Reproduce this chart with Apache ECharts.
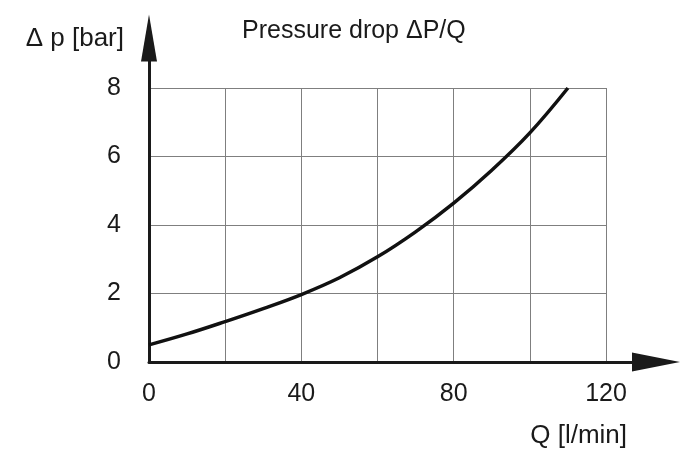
<!DOCTYPE html>
<html>
<head>
<meta charset="utf-8">
<script src="https://cdn.jsdelivr.net/npm/echarts@6/dist/echarts.min.js"></script>
<style>
html,body{margin:0;padding:0;background:#fff;}
#chart{width:684px;height:452px;}
</style>
</head>
<body>
<div id="chart"></div>
<script>
// Data
var flow = [0, 10, 20, 30, 40, 50, 60, 70, 80, 90, 100, 110];
var pressure = [0.5, 0.82, 1.18, 1.56, 1.97, 2.46, 3.07, 3.8, 4.64, 5.6, 6.69, 8.0];
var xTickLabels = [0, 40, 80, 120];
var yTickLabels = [0, 2, 4, 6, 8];
var titleText = 'Pressure drop ΔP/Q';
var xName = 'Q [l/min]';
var yName = 'Δ p [bar]';

var font = 'Liberation Sans, Arial, sans-serif';
var ink = '#1a1a1a';
var seriesData = flow.map(function (q, i) { return [q, pressure[i]]; });

var chart = echarts.init(document.getElementById('chart'), null, {renderer: 'canvas'});
chart.setOption({
  backgroundColor: '#fff',
  animation: false,
  textStyle: {fontFamily: font},
  title: {
    text: titleText, left: 237, top: 14,
    textStyle: {fontSize: 25, fontWeight: 'normal', color: ink, fontFamily: font}
  },
  grid: [
    {left: 149, right: 78, top: 88, bottom: 90},
    {left: 149, right: 28, top: 38, bottom: 90}
  ],
  xAxis: [
    {
      type: 'value', gridIndex: 0, min: 0, max: 120, interval: 20,
      axisLine: {show: false}, axisTick: {show: false},
      splitLine: {show: true, lineStyle: {color: '#7f7f7f', width: 1}},
      axisLabel: {
        fontSize: 25, color: ink, margin: 20, fontFamily: font,
        formatter: function (v) { return xTickLabels.indexOf(v) >= 0 ? String(v) : ''; }
      },
      name: xName, nameLocation: 'end', nameGap: 21,
      nameTextStyle: {fontSize: 26, color: ink, align: 'right', verticalAlign: 'top', padding: [61, 0, 0, 0], fontFamily: font}
    },
    {
      type: 'value', gridIndex: 1, min: 0, max: 1,
      axisLine: {show: true, symbol: ['none', 'triangle'], symbolSize: [19, 48], lineStyle: {color: ink, width: 3}},
      axisTick: {show: false}, axisLabel: {show: false}, splitLine: {show: false}
    }
  ],
  yAxis: [
    {
      type: 'value', gridIndex: 0, min: 0, max: 8, interval: 2,
      axisLine: {show: false}, axisTick: {show: false},
      splitLine: {show: true, lineStyle: {color: '#7f7f7f', width: 1}},
      axisLabel: {
        fontSize: 25, color: ink, margin: 28, fontFamily: font,
        formatter: function (v) { return yTickLabels.indexOf(v) >= 0 ? String(v) : ''; }
      },
      name: yName, nameLocation: 'end', nameGap: 36,
      nameTextStyle: {fontSize: 26, color: ink, align: 'right', padding: [0, 25, 0, 0], fontFamily: font}
    },
    {
      type: 'value', gridIndex: 1, min: 0, max: 1,
      axisLine: {show: true, symbol: ['none', 'triangle'], symbolSize: [16, 47], lineStyle: {color: ink, width: 3}},
      axisTick: {show: false}, axisLabel: {show: false}, splitLine: {show: false}
    }
  ],
  series: [{
    type: 'line', xAxisIndex: 0, yAxisIndex: 0,
    data: seriesData, smooth: 0.4, symbol: 'none',
    lineStyle: {color: '#111', width: 3.5}, z: 5
  }]
});
</script>
</body>
</html>
